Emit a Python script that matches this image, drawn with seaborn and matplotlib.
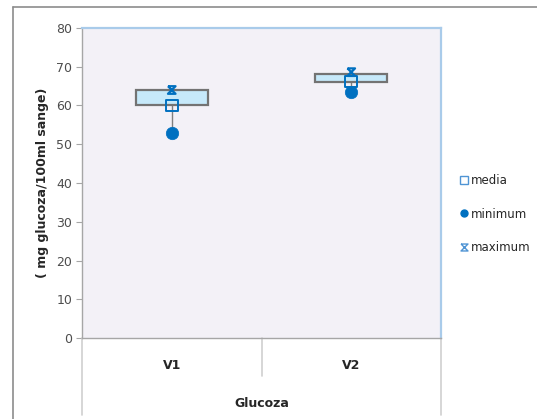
import numpy as np
import pandas as pd
import matplotlib
matplotlib.use("Agg")
import matplotlib.pyplot as plt
from matplotlib.path import Path
from matplotlib.lines import Line2D
import seaborn as sns

# Glucose values per group (mg glucoza / 100 ml sange)
categories = ["V1", "V2"]
box_low = [60.0, 66.0]
box_high = [64.0, 68.2]
media = [60.0, 66.2]
minimum = [53.0, 63.6]
maximum = [64.0, 68.6]
y_ticks = [0, 10, 20, 30, 40, 50, 60, 70, 80]

sns.set_theme(style="white")
plt.rcParams["font.family"] = ["DejaVu Sans"]

df = pd.DataFrame({
    "grup": categories,
    "box_low": box_low,
    "box_high": box_high,
    "media": media,
    "minimum": minimum,
    "maximum": maximum,
})

BLUE = "#0070C0"
LIGHT_BLUE = "#4F94D4"
GRID_GRAY = "#A6A6A6"

# hourglass-shaped "x" marker
hourglass = Path(
    [(-1, 1), (1, 1), (-1, -1), (1, -1), (-1, 1)],
    [Path.MOVETO, Path.LINETO, Path.LINETO, Path.LINETO, Path.LINETO],
)

fig = plt.figure(figsize=(5.37, 4.19), dpi=100)
fig.patch.set_facecolor("white")
ax = fig.add_axes([82 / 537, 1 - 338 / 419, 359 / 537, 310 / 419])
ax.set_facecolor("#F3F1F7")

# outer chart frame (left and top edges)
fig.add_artist(Line2D([13 / 537, 13 / 537], [0, 1 - 7 / 419], color="#8C8C8C", lw=1.2,
                      transform=fig.transFigure))
fig.add_artist(Line2D([13 / 537, 1], [1 - 7 / 419, 1 - 7 / 419], color="#8C8C8C", lw=1.2,
                      transform=fig.transFigure))

# high-low line behind the boxes
ax.vlines(df["grup"], df["minimum"], df["maximum"], color="#7F7F7F", lw=1.0, zorder=1)

# boxes between low and high values
ax.bar(df["grup"], df["box_high"] - df["box_low"], bottom=df["box_low"], width=0.4,
       color="#C6E9FA", edgecolor="#737373", linewidth=1.6, zorder=2)

sns.scatterplot(data=df, x="grup", y="media", marker="s", s=70, facecolor="none",
                edgecolor=BLUE, linewidth=1.4, zorder=4, ax=ax)
sns.scatterplot(data=df, x="grup", y="minimum", marker="o", s=80, color=BLUE,
                edgecolor=BLUE, linewidth=0.5, zorder=5, ax=ax)
sns.scatterplot(data=df, x="grup", y="maximum", marker=hourglass, s=30, facecolor="none",
                edgecolor=BLUE, linewidth=1.6, zorder=6, ax=ax)

ax.set_xlim(-0.5, 1.5)
ax.set_ylim(0, 80)
ax.set_yticks(y_ticks)
ax.tick_params(axis="y", which="major", length=4, width=0.8, color=GRID_GRAY,
               labelsize=9, labelcolor="#4D4D4D", pad=3, left=True)
ax.set_xticks(range(len(categories)))
ax.set_xticklabels(categories, fontsize=9, fontweight="bold", color="#262626")
ax.tick_params(axis="x", length=0, pad=15)

ax.set_ylabel("( mg glucoza/100ml sange)", fontsize=9, fontweight="bold",
              color="#262626", labelpad=5)
ax.set_xlabel("Glucoza", fontsize=9, fontweight="bold", color="#262626", labelpad=18)

for side in ("left", "bottom"):
    ax.spines[side].set_color(GRID_GRAY)
    ax.spines[side].set_linewidth(1.0)
for side in ("top", "right"):
    ax.spines[side].set_color("#A9CBEA")
    ax.spines[side].set_linewidth(1.6)

# category separators of the two-level axis
sep_kw = dict(color="#D0D0D0", lw=1.2, transform=ax.transAxes, clip_on=False)
ax.plot([0, 0], [0, -77 / 310], **sep_kw)
ax.plot([0.5, 0.5], [0, -38 / 310], **sep_kw)
ax.plot([1, 1], [0, -77 / 310], **sep_kw)

handles = [
    Line2D([], [], ls="none", marker="s", ms=5.5, mfc="none", mec=LIGHT_BLUE, mew=1.0),
    Line2D([], [], ls="none", marker="o", ms=5, mfc=BLUE, mec=BLUE),
    Line2D([], [], ls="none", marker=hourglass, ms=5, mfc="none", mec=LIGHT_BLUE, mew=1.0),
]
leg = fig.legend(handles, ["media", "minimum", "maximum"], loc="center left",
                 bbox_to_anchor=(456 / 537, 1 - 214 / 419), frameon=False,
                 fontsize=8.5, handlelength=0.6, handletextpad=0.25,
                 labelspacing=1.75, borderaxespad=0)
for t in leg.get_texts():
    t.set_color("#262626")

fig.savefig("out.png", dpi=100, facecolor="white")
